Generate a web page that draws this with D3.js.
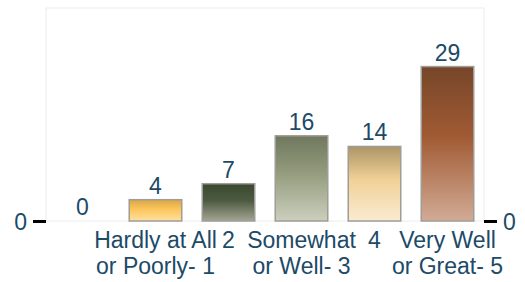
<!DOCTYPE html>
<html>
<head>
<meta charset="utf-8">
<script src="https://cdn.jsdelivr.net/npm/d3@7"></script>
<style>
  body { margin: 0; background: #fff; }
  text { font-family: "Liberation Sans", Arial, sans-serif; }
</style>
</head>
<body>
<div id="chart"></div>
<script>
// chart data
var categories = ["", "Hardly at All\nor Poorly- 1", "2", "Somewhat\nor Well- 3", "4", "Very Well\nor Great- 5"];
var counts = [0, 4, 7, 16, 14, 29];
var yTicks = [0];

// gradient colours for each bar (top, middle, bottom)
var barColors = [
    ["#cccccc", "#dddddd", "#eeeeee"],
    ["#d8a646", "#fdc65b", "#fde0a0"],
    ["#3b4830", "#4d5a42", "#a3a693"],
    ["#6f775e", "#959d7e", "#cbcfbd"],
    ["#ad9566", "#f1d197", "#f9ebd2"],
    ["#76462a", "#a05a33", "#d2ab95"]
];

var svgWidth = 525, svgHeight = 282;
var margin = { top: 8, left: 46, right: 41, bottom: 61 };
var width = svgWidth - margin.left - margin.right;
var height = svgHeight - margin.top - margin.bottom;
var textColor = "#1c4a67";

var svg = d3.select("#chart")
    .append("svg")
    .attr("width", svgWidth)
    .attr("height", svgHeight);

var defs = svg.append("defs");
barColors.forEach(function(c, i) {
    var g = defs.append("linearGradient")
        .attr("id", "grad" + i)
        .attr("x1", 0).attr("y1", 0).attr("x2", 0).attr("y2", 1);
    g.append("stop").attr("offset", "0%").attr("stop-color", c[0]);
    g.append("stop").attr("offset", "45%").attr("stop-color", c[1]);
    g.append("stop").attr("offset", "100%").attr("stop-color", c[2]);
});

var chartGroup = svg.append("g")
    .attr("transform", `translate(${margin.left}, ${margin.top})`);

var xScale = d3.scaleBand()
    .domain(d3.range(categories.length))
    .range([0, width])
    .paddingInner(0.26)
    .paddingOuter(0.13);

var yScale = d3.scaleLinear()
    .domain([0, 40])
    .range([height, 0]);

// light plot frame
chartGroup.append("rect")
    .attr("x", 0).attr("y", 0)
    .attr("width", width).attr("height", height)
    .attr("fill", "none")
    .attr("stroke", "#ececec")
    .attr("stroke-width", 1);

// bars
chartGroup.selectAll(".bar")
    .data(counts)
    .enter()
    .append("rect")
    .attr("class", "bar")
    .attr("x", (d, i) => xScale(i) + 0.75)
    .attr("y", d => yScale(d))
    .attr("width", xScale.bandwidth() - 1.5)
    .attr("height", d => height - yScale(d))
    .attr("fill", (d, i) => `url(#grad${i})`)
    .attr("stroke", "#a09d98")
    .attr("stroke-width", d => d > 0 ? 1.5 : 0);

// value labels
chartGroup.selectAll(".val")
    .data(counts)
    .enter()
    .append("text")
    .attr("class", "val")
    .attr("x", (d, i) => xScale(i) + xScale.bandwidth() / 2)
    .attr("y", d => yScale(d) - 6)
    .attr("text-anchor", "middle")
    .attr("font-size", "23px")
    .attr("fill", textColor)
    .text(d => d);

// category labels
var catText = chartGroup.selectAll(".cat")
    .data(categories)
    .enter()
    .append("text")
    .attr("class", "cat")
    .attr("text-anchor", "middle")
    .attr("font-size", "23px")
    .attr("fill", textColor);

catText.each(function(d, i) {
    var lines = d.split("\n");
    var cx = xScale(i) + xScale.bandwidth() / 2;
    lines.forEach(function(line, j) {
        d3.select(this).append("tspan")
            .attr("x", cx)
            .attr("y", height + 27 + j * 26)
            .text(line);
    }, this);
});

// axes
var leftAxis = d3.axisLeft(yScale).tickValues(yTicks).tickSize(13).tickPadding(6);
var rightAxis = d3.axisRight(yScale).tickValues(yTicks).tickSize(13).tickPadding(6);

[chartGroup.append("g").call(leftAxis),
 chartGroup.append("g").attr("transform", `translate(${width}, 0)`).call(rightAxis)]
    .forEach(function(ax) {
        ax.select(".domain").remove();
        ax.selectAll(".tick line").attr("stroke", "#000").attr("stroke-width", 3);
        ax.selectAll(".tick text")
            .attr("font-size", "23px")
            .attr("font-family", "'Liberation Sans', Arial, sans-serif")
            .attr("fill", textColor)
            .attr("dy", "0.35em");
    });
</script>
</body>
</html>
